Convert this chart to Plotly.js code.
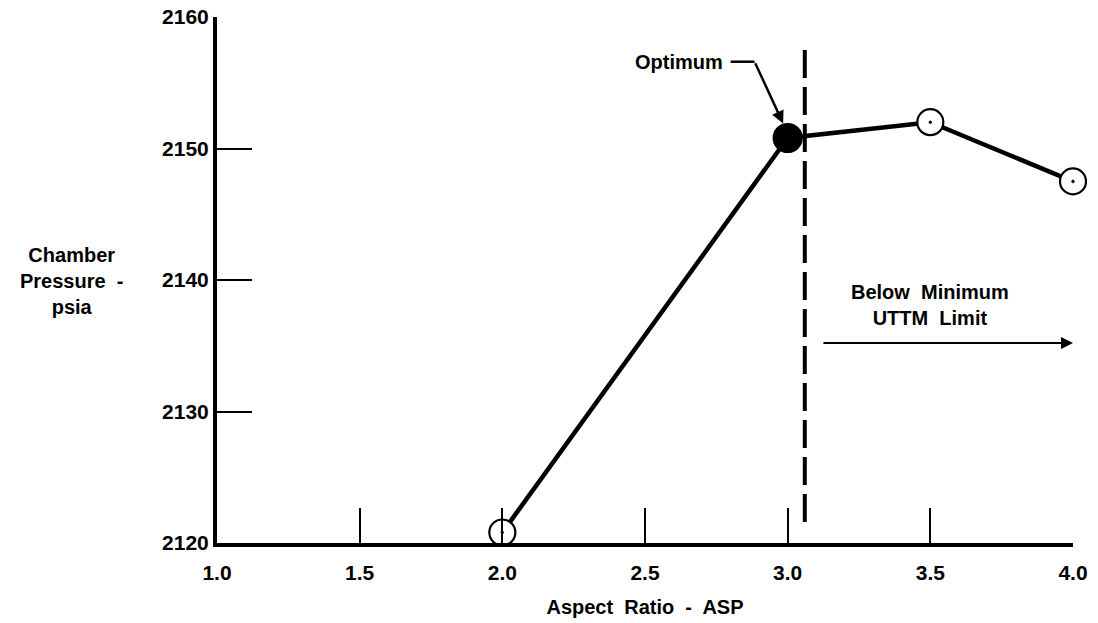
<!DOCTYPE html>
<html>
<head>
<meta charset="utf-8">
<script src="https://cdn.plot.ly/plotly-3.0.1.min.js"></script>
<style>html,body{margin:0;padding:0;background:#fff;}#chart{width:1098px;height:623px;}</style>
</head>
<body>
<div id="chart"></div>
<script>
// Data
const aspectRatio = [2.0, 3.0, 3.5, 4.0];
const chamberPressure = [2120.8, 2150.8, 2152.0, 2147.5];
const optimumFlags = [false, true, false, false];
const limitX = [3.06, 3.06];
const limitY = [2121.6, 2157.6];
const xTickVals = [1.0, 1.5, 2.0, 2.5, 3.0, 3.5, 4.0];
const xTickText = ['1.0', '1.5', '2.0', '2.5', '3.0', '3.5', '4.0'];
const yTickVals = [2120, 2130, 2140, 2150, 2160];
const yTickText = ['2120', '2130', '2140', '2150', '2160'];

const FONT = 'Liberation Sans, Arial, sans-serif';
const TXT = {family: FONT, size: 20, color: '#000', weight: 'bold'};

const traces = [
  {
    x: limitX, y: limitY, mode: 'lines', type: 'scatter',
    line: {color: '#000', width: 4, dash: '28px,9px'},
    hoverinfo: 'skip', showlegend: false, cliponaxis: false
  },
  {
    x: aspectRatio, y: chamberPressure, mode: 'lines+markers', type: 'scatter',
    opacity: 1,
    line: {color: '#000', width: 4.5},
    marker: {
      size: optimumFlags.map(f => f ? 28 : 26),
      symbol: optimumFlags.map(f => f ? 'circle' : 'circle-dot'),
      color: optimumFlags.map(f => f ? '#000' : '#fff'),
      opacity: 1,
      line: {color: '#000', width: 2.2}
    },
    showlegend: false, cliponaxis: false
  }
];

const layout = {
  width: 1098, height: 623,
  margin: {l: 217, r: 25, t: 17, b: 80},
  paper_bgcolor: '#fff', plot_bgcolor: '#fff',
  font: TXT,
  showlegend: false,
  xaxis: {
    range: [1, 4], tickvals: xTickVals, ticktext: xTickText,
    ticks: 'inside', ticklen: 35, tickwidth: 2, tickcolor: '#000',
    showline: true, linewidth: 4, linecolor: '#000',
    showgrid: false, zeroline: false,
    ticklabelstandoff: 8,
    tickfont: {family: FONT, size: 21, color: '#000', weight: 'bold'},
    title: {text: 'Aspect  Ratio  -  ASP', font: {family: FONT, size: 20, color: '#000', weight: 'bold'}, standoff: 18}
  },
  yaxis: {
    range: [2120, 2160], tickvals: yTickVals, ticktext: yTickText,
    ticks: 'inside', ticklen: 35, tickwidth: 2, tickcolor: '#000',
    showline: true, linewidth: 4, linecolor: '#000',
    showgrid: false, zeroline: false,
    ticklabelstandoff: 0,
    tickfont: {family: FONT, size: 21, color: '#000', weight: 'bold'}
  },
  annotations: [
    {
      xref: 'paper', yref: 'y', x: -0.17, y: 2139.9, xanchor: 'center', yanchor: 'middle',
      text: 'Chamber<br>Pressure  -<br>psia', showarrow: false, align: 'center',
      font: TXT
    },
    {
      xref: 'x', yref: 'y', x: 2.78, y: 2156.6, xanchor: 'right', yanchor: 'middle',
      text: 'Optimum', showarrow: false,
      font: TXT
    },
    {
      xref: 'x', yref: 'y', x: 2.984, y: 2151.9, ax: 2.884, ay: 2156.6,
      axref: 'x', ayref: 'y', showarrow: true, arrowhead: 2, arrowsize: 1, arrowwidth: 2.5,
      arrowcolor: '#000', text: ''
    },
    {
      xref: 'x', yref: 'y', x: 3.5, y: 2138.1, xanchor: 'center', yanchor: 'middle',
      text: 'Below  Minimum<br>UTTM  Limit', showarrow: false, align: 'center',
      font: TXT
    },
    {
      xref: 'x', yref: 'y', x: 4.0, y: 2135.2, ax: 3.12, ay: 2135.2,
      axref: 'x', ayref: 'y', showarrow: true, arrowhead: 2, arrowsize: 1.2, arrowwidth: 2,
      arrowcolor: '#000', text: ''
    }
  ],
  shapes: [
    {type: 'line', xref: 'x', yref: 'y', x0: 2.80, x1: 2.884, y0: 2156.6, y1: 2156.6,
     line: {color: '#000', width: 2.5}}
  ]
};

Plotly.newPlot('chart', traces, layout, {displayModeBar: false, staticPlot: true});
</script>
</body>
</html>
